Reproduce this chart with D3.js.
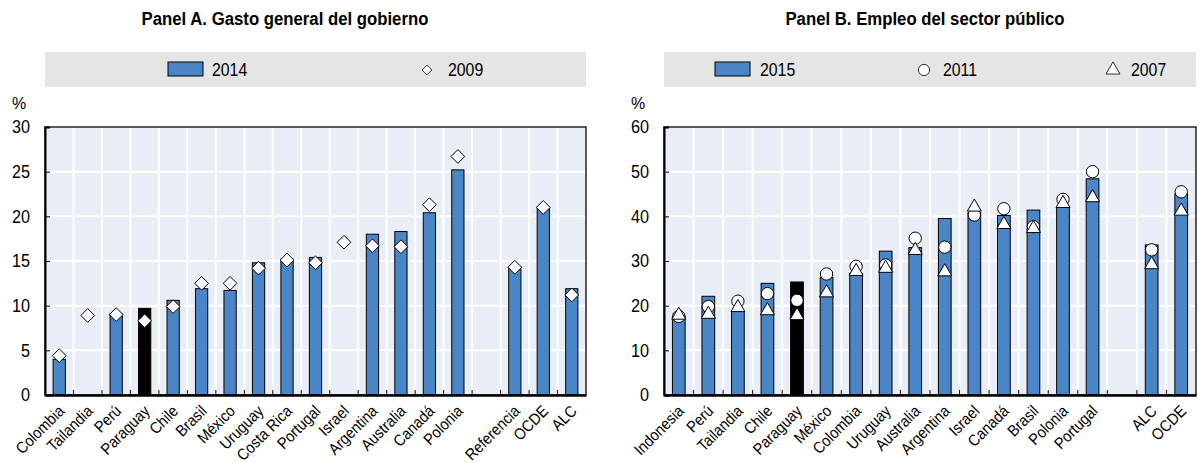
<!DOCTYPE html>
<html>
<head>
<meta charset="utf-8">
<script src="https://cdn.jsdelivr.net/npm/d3@7"></script>
<style>
  body { margin: 0; background: #fff; }
  svg text { font-family: "Liberation Sans", Arial, sans-serif; fill: #000; }
</style>
</head>
<body>
<svg id="chart" width="1200" height="463"></svg>
<script>
// Panel A - gasto general del gobierno (% del PIB)
const catsA = ["Colombia", "Tailandia", "Perú", "Paraguay", "Chile", "Brasil", "México", "Uruguay",
  "Costa Rica", "Portugal", "Israel", "Argentina", "Australia", "Canadá", "Polonia", "",
  "Referencia", "OCDE", "ALC"];
const vals2014 = [4.0, null, 9.1, 9.7, 10.6, 11.9, 11.7, 14.8, 15.2, 15.4, null, 18.0, 18.3, 20.4, 25.2, null, 14.3, 21.0, 11.9];
const vals2009 = [4.4, 8.9, 9.0, 8.3, 9.9, 12.5, 12.5, 14.2, 15.1, 14.8, 17.1, 16.7, 16.6, 21.3, 26.7, null, 14.3, 21.0, 11.2];
const ticksA = [0, 5, 10, 15, 20, 25, 30];

// Panel B - empleo del sector público
const catsB = ["Indonesia", "Perú", "Tailandia", "Chile", "Paraguay", "México", "Colombia", "Uruguay",
  "Australia", "Argentina", "Israel", "Canadá", "Brasil", "Polonia", "Portugal", "", "ALC", "OCDE"];
const vals2015 = [17.6, 22.1, 18.7, 25.0, 25.3, 26.3, 27.2, 32.2, 33.0, 39.5, 40.8, 40.2, 41.4, 42.0, 48.4, null, 33.6, 45.0];
const vals2011 = [17.6, 19.8, 21.0, 22.7, 21.2, 27.1, 28.8, 29.1, 35.1, 33.1, 40.3, 41.7, 37.7, 43.8, 50.0, null, 32.5, 45.5];
const vals2007 = [18.1, 18.3, 19.8, 19.1, 18.0, 23.1, 27.9, 28.6, 32.6, 27.8, 42.3, 38.4, 37.5, 43.1, 44.4, null, 29.4, 41.4];
const ticksB = [0, 10, 20, 30, 40, 50, 60];

const highlight = "Paraguay";
const blue = "#4a86c7";
const plotBg = "#e9edf5";

const svg = d3.select("#chart");

// squeeze text horizontally to mimic the narrow font of the original
function condense(sel, k) {
  sel.each(function () {
    const len = this.getComputedTextLength();
    if (len > 0) {
      d3.select(this).attr("textLength", len * k).attr("lengthAdjust", "spacingAndGlyphs");
    }
  });
}

function drawPanel(cfg) {
  const g = svg.append("g");
  const x = d3.scaleBand().domain(cfg.cats.map((c, i) => i)).range([cfg.left, cfg.right]);
  const y = d3.scaleLinear().domain([0, cfg.max]).range([cfg.bottom, cfg.top]);

  // title
  g.append("text")
    .attr("x", cfg.titleX)
    .attr("y", 25)
    .attr("text-anchor", "middle")
    .style("font-size", "18px")
    .style("font-weight", "bold")
    .text(cfg.title)
    .call(condense, 0.93);

  // legend band
  g.append("rect")
    .attr("x", cfg.left).attr("y", 52)
    .attr("width", cfg.right - cfg.left).attr("height", 35)
    .attr("fill", "#e5e5e5");

  cfg.legend.forEach(l => {
    if (l.type === "bar") {
      g.append("rect").attr("x", l.x).attr("y", 62).attr("width", 35).attr("height", 14)
        .attr("fill", blue).attr("stroke", "#000").attr("stroke-width", 1);
    } else {
      g.append("path")
        .attr("transform", `translate(${l.x + 7},70)`)
        .attr("d", d3.symbol().type(l.type).size(l.size)())
        .attr("fill", "#fff").attr("stroke", "#000").attr("stroke-width", 0.8);
    }
    g.append("text").attr("x", l.tx).attr("y", 76)
      .style("font-size", "18px").text(l.label)
      .call(condense, 0.88);
  });

  // plot background
  g.append("rect")
    .attr("x", cfg.left).attr("y", cfg.top)
    .attr("width", cfg.right - cfg.left).attr("height", cfg.bottom - cfg.top)
    .attr("fill", plotBg);

  // grid lines
  g.selectAll(".hgrid").data(cfg.ticks).enter().append("line")
    .attr("x1", cfg.left).attr("x2", cfg.right)
    .attr("y1", d => y(d)).attr("y2", d => y(d))
    .attr("stroke", "#fff").attr("stroke-width", 2);
  const bounds = x.domain().slice(1).map(i => x(i));
  g.selectAll(".vgrid").data(bounds).enter().append("line")
    .attr("x1", d => d).attr("x2", d => d)
    .attr("y1", cfg.top).attr("y2", cfg.bottom)
    .attr("stroke", "#fff").attr("stroke-width", 2);

  // bars
  const bw = x.bandwidth() * 0.43;
  g.selectAll(".bar").data(cfg.bars.map((v, i) => ({ v, i })).filter(d => d.v != null))
    .enter().append("rect")
    .attr("x", d => x(d.i) + x.bandwidth() / 2 - bw / 2)
    .attr("y", d => y(d.v))
    .attr("width", bw)
    .attr("height", d => y(0) - y(d.v))
    .attr("fill", d => cfg.cats[d.i] === highlight ? "#000" : blue)
    .attr("stroke", "#000").attr("stroke-width", 1);

  // markers
  cfg.markers.forEach(m => {
    g.selectAll(null).data(m.values.map((v, i) => ({ v, i })).filter(d => d.v != null))
      .enter().append("path")
      .attr("transform", d => `translate(${x(d.i) + x.bandwidth() / 2},${y(d.v) + (m.dy || 0)})`)
      .attr("d", d3.symbol().type(m.type).size(m.size)())
      .attr("fill", "#fff").attr("stroke", "#000").attr("stroke-width", 1);
  });

  // frame
  g.append("rect")
    .attr("x", cfg.left).attr("y", cfg.top)
    .attr("width", cfg.right - cfg.left).attr("height", cfg.bottom - cfg.top)
    .attr("fill", "none").attr("stroke", "#222").attr("stroke-width", 1.5);

  // y axis
  const yAxis = d3.axisLeft(y).tickValues(cfg.ticks).tickSize(-5).tickPadding(15);
  const ya = g.append("g").attr("transform", `translate(${cfg.left},0)`).call(yAxis);
  ya.select(".domain").attr("stroke", "#000").attr("stroke-width", 2);
  ya.selectAll(".tick line").attr("stroke", "#000");
  ya.selectAll(".tick text").attr("font-family", null).style("font-size", "18px")
    .call(condense, 0.9);
  g.append("text").attr("x", cfg.left - 26).attr("y", 109)
    .attr("text-anchor", "middle").style("font-size", "16px").text("%");

  // x axis
  const xAxis = d3.axisBottom(x).tickSize(0).tickFormat(i => cfg.cats[i]);
  const xa = g.append("g").attr("transform", `translate(0,${cfg.bottom})`).call(xAxis);
  xa.select(".domain").attr("stroke", "#000").attr("stroke-width", 2.5);
  xa.selectAll(".tick text")
    .attr("font-family", null)
    .style("font-size", "16px")
    .attr("text-anchor", "end")
    .attr("dy", null)
    .attr("transform", "translate(-1,10) rotate(-45)")
    .attr("y", 10).attr("x", 0)
    .call(condense, 0.9);
  g.selectAll(".xtick").data(bounds).enter().append("line")
    .attr("x1", d => d).attr("x2", d => d)
    .attr("y1", cfg.bottom).attr("y2", cfg.bottom - 5)
    .attr("stroke", "#000").attr("stroke-width", 1);
}

drawPanel({
  title: "Panel A. Gasto general del gobierno", titleX: 285,
  cats: catsA, left: 45, right: 586, top: 127, bottom: 395, max: 30, ticks: ticksA,
  bars: vals2014,
  markers: [{ values: vals2009, type: d3.symbolDiamond2, size: 120 }],
  legend: [
    { type: "bar", x: 168, tx: 212, label: "2014" },
    { type: d3.symbolDiamond2, size: 60, x: 420, tx: 448, label: "2009" }
  ]
});

drawPanel({
  title: "Panel B. Empleo del sector público", titleX: 925,
  cats: catsB, left: 664, right: 1196, top: 127, bottom: 395, max: 60, ticks: ticksB,
  bars: vals2015,
  markers: [
    { values: vals2011, type: d3.symbolCircle, size: 120 },
    { values: vals2007, type: d3.symbolTriangle, size: 85, dy: 1 }
  ],
  legend: [
    { type: "bar", x: 715, tx: 760, label: "2015" },
    { type: d3.symbolCircle, size: 100, x: 917, tx: 943, label: "2011" },
    { type: d3.symbolTriangle, size: 85, x: 1106, tx: 1131, label: "2007" }
  ]
});
</script>
</body>
</html>
